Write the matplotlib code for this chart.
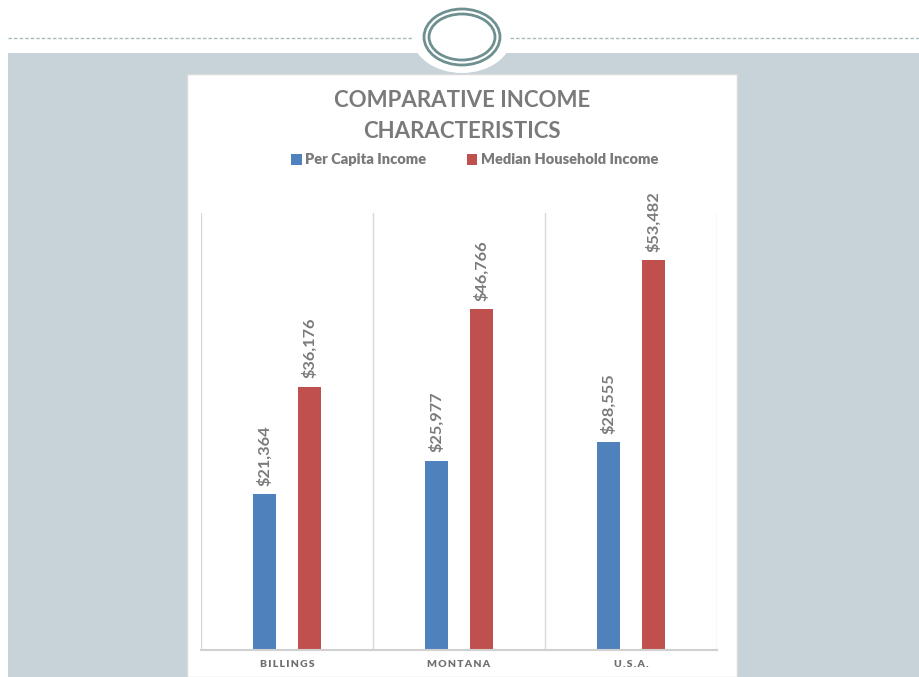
import matplotlib.pyplot as plt
from matplotlib.patches import Ellipse, Rectangle

places = ['BILLINGS', 'MONTANA', 'U.S.A.']
per_capita = [21364, 25977, 28555]
median_household = [36176, 46766, 53482]

blue = '#4f81bd'
red = '#c0504d'
grey_text = '#7a7a7a'

plt.rcParams['font.family'] = ['Lato', 'DejaVu Sans']


def spaced(s):
    # widen the tracking of the axis captions with thin spaces
    return '\u2009'.join(s)


fig = plt.figure(figsize=(9.2, 6.77), dpi=100)
fig.patch.set_facecolor('white')

# slide background: grey panel, dashed rule and the ring ornament
bg = fig.add_axes([0, 0, 1, 1])
bg.set_xlim(0, 920)
bg.set_ylim(677, 0)
bg.axis('off')
bg.add_patch(Rectangle((8, 53), 912, 624, color='#c8d3d9', lw=0))
bg.plot([8, 413], [38, 38], ls=(0, (2.5, 1.5)), color='#a9bcbc', lw=1)
bg.plot([510, 920], [38, 38], ls=(0, (2.5, 1.5)), color='#a9bcbc', lw=1)
bg.add_patch(Ellipse((462, 36), 100, 74, color='white', lw=0))
bg.add_patch(Ellipse((462, 37), 76, 56, fill=False, ec='#6e9090', lw=2))
bg.add_patch(Ellipse((462, 37), 66, 46, fill=False, ec='#6e9090', lw=2))
bg.add_patch(Rectangle((187, 74), 550, 603, fc='white', ec='#d9d9d9', lw=1))

fig.text(462 / 920, 1 - 116 / 677, 'COMPARATIVE INCOME\nCHARACTERISTICS',
         ha='center', va='center', fontsize=16, fontweight='bold',
         color=grey_text, linespacing=1.55)

ax = fig.add_axes([201 / 920, 1 - 650 / 677, 516 / 920, 437 / 677])
x = range(len(places))
w = 0.134
off = 0.131
b1 = ax.bar([i - off for i in x], per_capita, w, color=blue, label='Per Capita Income')
b2 = ax.bar([i + off for i in x], median_household, w, color=red, label='Median Household Income')

for bars, vals in [(b1, per_capita), (b2, median_household)]:
    for b, v in zip(bars, vals):
        ax.annotate(f'${v:,}', (b.get_x() + b.get_width() / 2, v),
                    xytext=(0, 6), textcoords='offset points', rotation=90,
                    ha='center', va='bottom', fontsize=11.8, fontweight='bold',
                    color=grey_text)

ax.set_xlim(-0.5, 2.5)
ax.set_ylim(0, 60000)
ax.set_yticks([])
ax.set_xticks(list(x))
ax.set_xticklabels([spaced(p) for p in places], fontsize=7.5, fontweight='heavy', color='#6f6f6f')
ax.tick_params(axis='x', length=0, pad=7)
for s in ['top', 'right', 'left']:
    ax.spines[s].set_visible(False)
ax.spines['bottom'].set_color('#d0d0d0')
ax.spines['bottom'].set_linewidth(1.5)
for g in [-0.5, 0.5, 1.5, 2.5]:
    ax.axvline(g, color='#d9d9d9', lw=1, zorder=0)

fig.legend(handles=[b1, b2], loc='center', bbox_to_anchor=(475 / 920, 1 - 160 / 677),
           ncol=2, frameon=False, handlelength=0.7, handleheight=0.7,
           handletextpad=0.25, columnspacing=2.8,
           prop={'size': 10.5, 'weight': 'heavy'}, labelcolor=grey_text)

fig.savefig('out.png', dpi=100)
